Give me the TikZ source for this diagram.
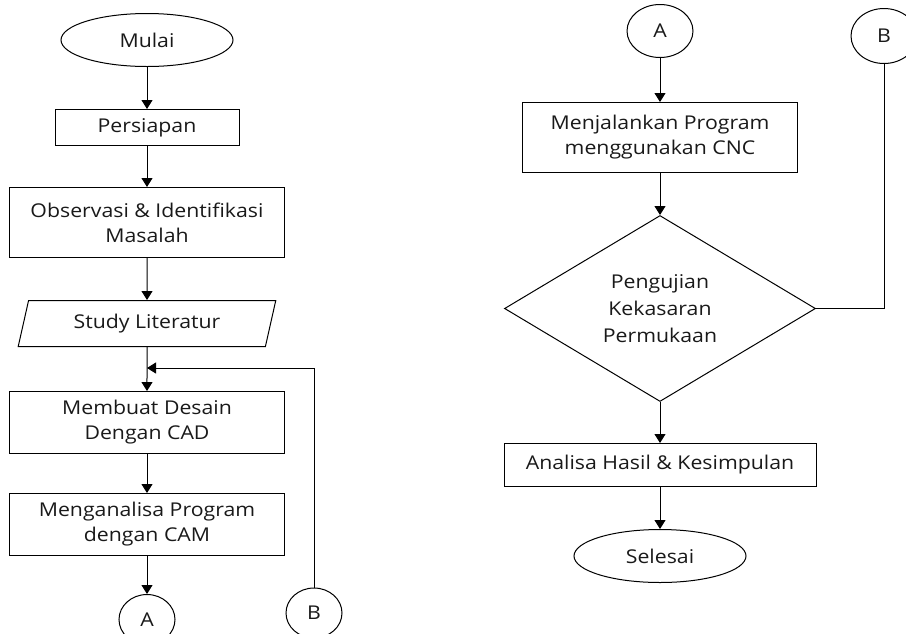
\documentclass[tikz,border=0pt]{standalone}
\usepackage{fontspec}
\setmainfont{Open Sans}[FakeStretch=1.12]
\usetikzlibrary{positioning,arrows.meta,shapes.geometric}

\tikzset{
  kotak/.style={draw,line width=1pt,minimum width=275pt,minimum height=62pt,align=center,inner sep=2pt},
  terminal/.style={draw,ellipse,line width=1pt,minimum width=172pt,minimum height=53pt,inner sep=0pt},
  konektor/.style={draw,ellipse,line width=1pt,minimum width=56pt,minimum height=50pt,inner sep=0pt},
  keputusan/.style={draw,diamond,line width=1pt,minimum width=311pt,minimum height=186pt,align=center,inner sep=0pt},
  masukan/.style={draw,trapezium,trapezium left angle=74,trapezium right angle=106,trapezium stretches=true,line width=1pt,minimum width=258pt,minimum height=46pt,inner sep=2pt},
  alur/.style={->,line width=1pt}
}

\begin{document}
\begin{tikzpicture}[x=1pt,y=-1pt,>={Triangle[length=9pt,width=11pt]},node distance=41pt,font=\fontsize{19}{25}\selectfont,text=black!90]
\useasboundingbox (0,0) rectangle (906,633);
% kolom kiri
\node[terminal] (mulai) at (147,40) {Mulai};
\node[kotak,minimum width=184pt,minimum height=36pt,below=42pt of mulai] (persiapan) {Persiapan};
\node[kotak,minimum height=70pt,below=of persiapan] (observasi) {Observasi \& Identifikasi\\Masalah};
\node[masukan,below=42pt of observasi] (studi) {Study Literatur};
\node[kotak,below=44pt of studi] (desain) {Membuat Desain\\Dengan CAD};
\node[kotak,below=39pt of desain] (cam) {Menganalisa Program\\dengan CAM};
\node[konektor,below=38pt of cam] (ka) {A};
\node[konektor] (kb) at (314,613) {B};
\coordinate (gabung) at (147,368);

\draw[alur] (mulai) -- (persiapan);
\draw[alur] (persiapan) -- (observasi);
\draw[alur] (observasi) -- (studi);
\draw[alur] (studi) -- (desain);
\draw[alur] (desain) -- (cam);
\draw[alur] (cam) -- (ka);
\draw[alur] (kb) |- (gabung);

% kolom kanan
\node[konektor,minimum width=66pt,minimum height=53pt] (ka2) at (660,31) {A};
\node[konektor,minimum width=66pt,minimum height=55pt] (kb2) at (884,36) {B};
\node[kotak,minimum height=70pt,below=44pt of ka2] (cnc) {Menjalankan Program\\menggunakan CNC};
\node[keputusan,below=42pt of cnc] (uji) {Pengujian\\[2pt]Kekasaran\\[2pt]Permukaan};
\node[kotak,minimum width=312pt,minimum height=43pt,below=of uji] (analisa) {Analisa Hasil \& Kesimpulan};
\node[terminal,below=42pt of analisa] (selesai) {Selesai};

\draw[alur] (ka2) -- (cnc);
\draw[alur] (cnc) -- (uji);
\draw[alur] (uji) -- (analisa);
\draw[alur] (analisa) -- (selesai);
\draw[line width=1pt] (uji.east) -| (kb2.south);
\end{tikzpicture}
\end{document}
